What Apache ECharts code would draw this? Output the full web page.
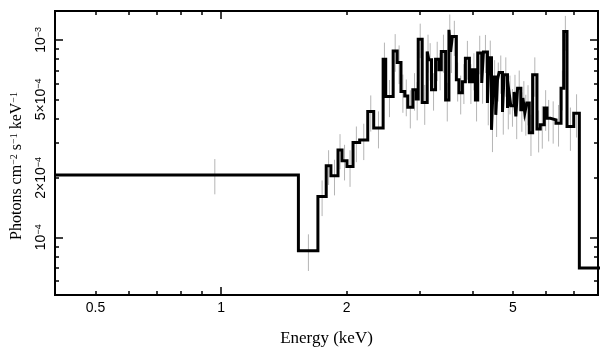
<!DOCTYPE html>
<html><head><meta charset="utf-8">
<script src="https://cdn.jsdelivr.net/npm/echarts@6/dist/echarts.min.js"></script>
<style>html,body{margin:0;padding:0;background:#fff}#c{width:609px;height:357px}</style>
</head><body><div id="c"></div>
<script>
// Energy bin edges (keV)
const binEdges = [0.4, 1.532, 1.706, 1.786, 1.833, 1.906, 1.949, 2.003, 2.071, 2.148,
  2.246, 2.321, 2.445, 2.480, 2.584, 2.642, 2.698, 2.755, 2.801, 2.880,
  2.934, 2.967, 3.033, 3.118, 3.146, 3.193, 3.265, 3.325, 3.370, 3.451,
  3.515, 3.548, 3.581, 3.662, 3.715, 3.786, 3.849, 3.935, 4.001, 4.068,
  4.120, 4.212, 4.252, 4.347, 4.386, 4.445, 4.494, 4.551, 4.594, 4.635,
  4.723, 4.765, 4.856, 4.899, 4.945, 5.036, 5.084, 5.133, 5.227, 5.285,
  5.343, 5.401, 5.475, 5.578, 5.713, 5.818, 5.948, 6.038, 6.149, 6.346,
  6.524, 6.621, 6.743, 6.998, 7.218, 9.0];
// Photons cm^-2 s^-1 keV^-1 per bin
const fluxValues = [2.07e-4, 8.55e-5, 1.61e-4, 2.30e-4, 2.05e-4, 2.77e-4, 2.44e-4, 2.28e-4, 3.02e-4, 3.11e-4,
  4.33e-4, 3.58e-4, 7.98e-4, 5.16e-4, 8.79e-4, 7.67e-4, 5.47e-4, 5.20e-4, 4.56e-4, 5.58e-4,
  5.01e-4, 1.008e-3, 4.81e-4, 8.72e-4, 7.92e-4, 5.58e-4, 7.98e-4, 7.05e-4, 8.72e-4, 4.96e-4,
  1.124e-3, 8.69e-4, 1.039e-3, 6.27e-4, 5.39e-4, 6.13e-4, 8.08e-4, 6.13e-4, 7.05e-4, 4.96e-4,
  8.59e-4, 6.05e-4, 8.69e-4, 4.79e-4, 8.11e-4, 3.50e-4, 6.49e-4, 4.17e-4, 6.27e-4, 6.83e-4,
  4.31e-4, 6.65e-4, 4.52e-4, 5.39e-4, 4.63e-4, 5.45e-4, 4.09e-4, 5.69e-4, 4.42e-4, 5.08e-4,
  4.27e-4, 4.79e-4, 3.38e-4, 6.65e-4, 3.54e-4, 3.71e-4, 4.51e-4, 4.01e-4, 3.93e-4, 3.78e-4,
  5.69e-4, 1.102e-3, 3.64e-4, 4.25e-4, 6.99e-5];
// 1-sigma errors per bin
const fluxErrors = [4.2e-5, 1.8e-5, 3.3e-5, 4.6e-5, 4.2e-5, 5.6e-5, 5.0e-5, 4.8e-5, 6.2e-5, 6.5e-5,
  9.0e-5, 7.6e-5, 1.7e-4, 1.1e-4, 1.9e-4, 1.7e-4, 1.2e-4, 1.1e-4, 1.0e-4, 1.2e-4,
  1.1e-4, 2.0e-4, 1.1e-4, 1.9e-4, 1.7e-4, 1.2e-4, 1.8e-4, 1.5e-4, 1.9e-4, 1.1e-4,
  2.2e-4, 1.9e-4, 2.1e-4, 1.4e-4, 1.2e-4, 1.4e-4, 1.8e-4, 1.4e-4, 1.5e-4, 1.1e-4,
  1.9e-4, 1.3e-4, 1.9e-4, 1.1e-4, 1.8e-4, 8.0e-5, 1.4e-4, 9.5e-5, 1.4e-4, 1.5e-4,
  1.0e-4, 1.5e-4, 1.0e-4, 1.2e-4, 1.0e-4, 1.2e-4, 9.5e-5, 1.3e-4, 1.0e-4, 1.1e-4,
  1.0e-4, 1.1e-4, 8.0e-5, 1.5e-4, 8.5e-5, 9.0e-5, 1.05e-4, 9.5e-5, 9.5e-5, 9.0e-5,
  1.3e-4, 2.2e-4, 9.0e-5, 1.05e-4, 4.0e-5];

const xRange = [0.4, 8];
const yRange = [5.1e-5, 1.4e-3];
const xLabelValues = [0.5, 1, 2, 5];
const xLabelTexts = ['0.5', '1', '2', '5'];
const xMinorTicks = [0.5, 0.6, 0.7, 0.8, 0.9, 2, 3, 4, 5, 6, 7];
const xMajorTicks = [1];
const yLabelValues = [1e-4, 2e-4, 5e-4, 1e-3];
const yLabelTexts = ['{b|10}{s|−4}', '{b|2×10}{s|−4}', '{b|5×10}{s|−4}', '{b|10}{s|−3}'];
const yMinorTicks = [6e-5, 7e-5, 8e-5, 9e-5, 2e-4, 3e-4, 4e-4, 5e-4, 6e-4, 7e-4, 8e-4, 9e-4];
const yMajorTicks = [1e-4, 1e-3];

function pick(vals, texts, v) {
  for (let i = 0; i < vals.length; i++) if (Math.abs(v / vals[i] - 1) < 1e-6) return texts[i];
  return '';
}

const lineCol = '#000';
function mkAxis(isX, pos, ticks, len, withLabels) {
  const r = isX ? xRange : yRange;
  const ax = {
    type: 'log', logBase: 10, position: pos, min: r[0], max: r[1],
    axisLine: { show: true, onZero: false, lineStyle: { color: lineCol, width: 2 } },
    axisTick: { show: true, inside: true, length: len, customValues: ticks, lineStyle: { color: lineCol, width: 1.5 } },
    splitLine: { show: false }, minorTick: { show: false }, minorSplitLine: { show: false },
    axisLabel: { show: false }
  };
  if (withLabels) {
    if (isX) {
      ax.axisLabel = { show: true, customValues: xLabelValues, margin: 6, color: '#000',
        fontFamily: 'Liberation Sans', fontSize: 14,
        formatter: v => pick(xLabelValues, xLabelTexts, v) };
      ax.name = 'Energy (keV)';
      ax.nameLocation = 'middle';
      ax.nameGap = 35;
      ax.nameTextStyle = { color: '#000', fontFamily: 'Liberation Serif', fontSize: 17 };
    } else {
      ax.axisLabel = { show: true, customValues: yLabelValues, margin: 7, rotate: 90, color: '#000',
        formatter: v => pick(yLabelValues, yLabelTexts, v),
        rich: { b: { fontFamily: 'Liberation Sans', fontSize: 14, color: '#000' },
                s: { fontFamily: 'Liberation Sans', fontSize: 9, color: '#000', verticalAlign: 'top' } } };
      ax.name = '{t|Photons cm}{s|−2}{t| s}{s|−1}{t| keV}{s|−1}';
      ax.nameLocation = 'middle';
      ax.nameRotate = 90;
      ax.nameGap = 30;
      ax.nameTextStyle = { color: '#000', padding: [0, 26, 0, 0],
        rich: { t: { fontFamily: 'Liberation Serif', fontSize: 16, color: '#000' },
                s: { fontFamily: 'Liberation Serif', fontSize: 10, color: '#000', verticalAlign: 'top' } } };
    }
  }
  return ax;
}

const stepPts = [];
for (let i = 0; i < fluxValues.length; i++) {
  stepPts.push([binEdges[i], fluxValues[i]]);
  stepPts.push([binEdges[i + 1], fluxValues[i]]);
}
const errData = fluxValues.map((v, i) => [(binEdges[i] + binEdges[i + 1]) / 2, v, fluxErrors[i]]);

const chart = echarts.init(document.getElementById('c'), null, { renderer: 'canvas' });
chart.setOption({
  animation: false,
  backgroundColor: '#fff',
  grid: { left: 55, right: 11, top: 11, bottom: 62, containLabel: false },
  xAxis: [
    mkAxis(true, 'bottom', xMinorTicks, 4, true),
    mkAxis(true, 'bottom', xMajorTicks, 8, false),
    mkAxis(true, 'top', xMinorTicks, 4, false),
    mkAxis(true, 'top', xMajorTicks, 8, false)
  ],
  yAxis: [
    mkAxis(false, 'left', yMinorTicks, 4, true),
    mkAxis(false, 'left', yMajorTicks, 8, false),
    mkAxis(false, 'right', yMinorTicks, 4, false),
    mkAxis(false, 'right', yMajorTicks, 8, false)
  ],
  series: [
    {
      type: 'custom', xAxisIndex: 0, yAxisIndex: 0, clip: true, z: 1,
      data: errData,
      encode: { x: 0, y: 1 },
      renderItem: function (params, api) {
        const x = api.value(0), v = api.value(1), e = api.value(2);
        if (x > xRange[1] || x < xRange[0]) return null;
        const lo = Math.max(v - e, yRange[0] * 0.5);
        const p1 = api.coord([x, v + e]);
        const p2 = api.coord([x, lo]);
        return { type: 'line', shape: { x1: p1[0], y1: p1[1], x2: p2[0], y2: p2[1] },
          style: { stroke: '#b5b5b5', lineWidth: 1 } };
      }
    },
    {
      type: 'line', xAxisIndex: 0, yAxisIndex: 0, z: 3, clip: true,
      data: stepPts, symbol: 'none', showSymbol: false,
      lineStyle: { color: '#000', width: 3, join: 'miter' }
    }
  ]
});
</script></body></html>
